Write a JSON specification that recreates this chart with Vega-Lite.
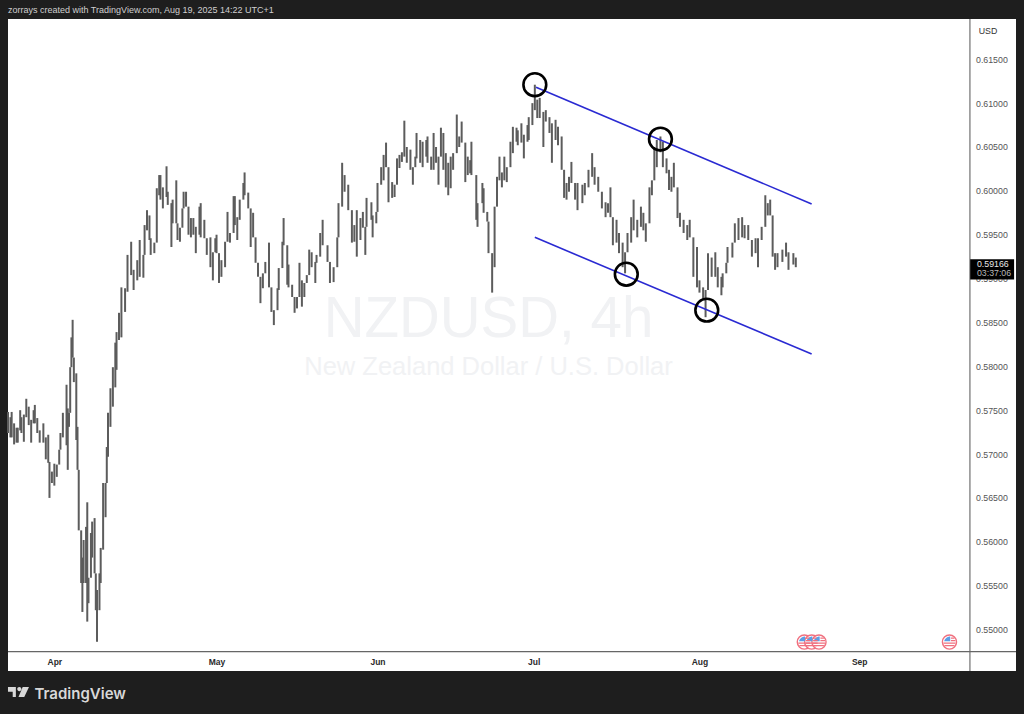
{"$schema":"https://vega.github.io/schema/vega-lite/v6.json","width":1008,"height":652,"autosize":{"type":"none"},"padding":{"left":8,"top":19,"right":8,"bottom":43},"background":"#1e1e1e","view":{"fill":"#ffffff","stroke":null},
"title":{"text":"zorrays created with TradingView.com, Aug 19, 2025 14:22 UTC+1","anchor":"start","frame":"group","orient":"top","offset":4,"fontSize":9,"fontWeight":"normal","color":"#cfcfcf","font":"Liberation Sans"},
"datasets":{
"bars":[{"bar":0,"low":0.5724,"high":0.5748},{"bar":2,"low":0.5719,"high":0.5742},{"bar":3,"low":0.5719,"high":0.5748},{"bar":5,"low":0.5711,"high":0.5735},{"bar":7,"low":0.5713,"high":0.573},{"bar":8,"low":0.5713,"high":0.573},{"bar":10,"low":0.5727,"high":0.575},{"bar":11,"low":0.5724,"high":0.5742},{"bar":13,"low":0.5714,"high":0.5745},{"bar":15,"low":0.5742,"high":0.5763},{"bar":17,"low":0.5733,"high":0.5754},{"bar":19,"low":0.5713,"high":0.5739},{"bar":21,"low":0.5735,"high":0.575},{"bar":22,"low":0.5735,"high":0.5756},{"bar":24,"low":0.5724,"high":0.5741},{"bar":26,"low":0.5713,"high":0.5727},{"bar":29,"low":0.5713,"high":0.5735},{"bar":31,"low":0.5694,"high":0.5719},{"bar":33,"low":0.569,"high":0.5722},{"bar":34,"low":0.565,"high":0.5691},{"bar":36,"low":0.5667,"high":0.568},{"bar":38,"low":0.5664,"high":0.5689},{"bar":40,"low":0.5674,"high":0.5688},{"bar":42,"low":0.5688,"high":0.5705},{"bar":43,"low":0.5705,"high":0.5724},{"bar":45,"low":0.5719,"high":0.5747},{"bar":48,"low":0.571,"high":0.5779},{"bar":49,"low":0.5682,"high":0.5752},{"bar":50,"low":0.5731,"high":0.5747},{"bar":51,"low":0.5747,"high":0.5799},{"bar":52,"low":0.5799,"high":0.5833},{"bar":53,"low":0.581,"high":0.5853},{"bar":54,"low":0.5782,"high":0.581},{"bar":56,"low":0.5716,"high":0.5792},{"bar":57,"low":0.5682,"high":0.5731},{"bar":58,"low":0.5613,"high":0.5682},{"bar":60,"low":0.5553,"high":0.5613},{"bar":61,"low":0.552,"high":0.5582},{"bar":62,"low":0.5553,"high":0.5602},{"bar":64,"low":0.5553,"high":0.5617},{"bar":65,"low":0.5509,"high":0.5645},{"bar":66,"low":0.553,"high":0.5559},{"bar":68,"low":0.5559,"high":0.561},{"bar":69,"low":0.5582,"high":0.5623},{"bar":71,"low":0.5564,"high":0.5627},{"bar":72,"low":0.5522,"high":0.5564},{"bar":73,"low":0.5486,"high":0.5545},{"bar":75,"low":0.5522,"high":0.5564},{"bar":76,"low":0.5553,"high":0.5593},{"bar":78,"low":0.5591,"high":0.5667},{"bar":80,"low":0.5628,"high":0.5667},{"bar":81,"low":0.5667,"high":0.5708},{"bar":82,"low":0.5697,"high":0.5747},{"bar":84,"low":0.5731,"high":0.5775},{"bar":86,"low":0.5754,"high":0.5799},{"bar":88,"low":0.5776,"high":0.5827},{"bar":89,"low":0.5796,"high":0.5839},{"bar":91,"low":0.583,"high":0.5861},{"bar":93,"low":0.5833,"high":0.589},{"bar":96,"low":0.5862,"high":0.5889},{"bar":98,"low":0.5885,"high":0.5927},{"bar":101,"low":0.5904,"high":0.5942},{"bar":103,"low":0.5887,"high":0.591},{"bar":106,"low":0.5898,"high":0.5921},{"bar":108,"low":0.5902,"high":0.5944},{"bar":111,"low":0.5901,"high":0.5927},{"bar":112,"low":0.5927,"high":0.5961},{"bar":114,"low":0.5955,"high":0.5978},{"bar":116,"low":0.5944,"high":0.5972},{"bar":117,"low":0.5927,"high":0.5946},{"bar":120,"low":0.5929,"high":0.5941},{"bar":122,"low":0.5941,"high":0.6003},{"bar":124,"low":0.5995,"high":0.6018},{"bar":125,"low":0.599,"high":0.6018},{"bar":127,"low":0.598,"high":0.6004},{"bar":130,"low":0.5993,"high":0.6028},{"bar":131,"low":0.5984,"high":0.5999},{"bar":134,"low":0.5936,"high":0.5986},{"bar":135,"low":0.5963,"high":0.599},{"bar":138,"low":0.5963,"high":0.6012},{"bar":139,"low":0.5944,"high":0.5963},{"bar":141,"low":0.5942,"high":0.5958},{"bar":143,"low":0.5958,"high":0.598},{"bar":144,"low":0.598,"high":0.5999},{"bar":146,"low":0.5982,"high":0.5999},{"bar":148,"low":0.595,"high":0.5982},{"bar":150,"low":0.5947,"high":0.5969},{"bar":152,"low":0.595,"high":0.5969},{"bar":154,"low":0.5929,"high":0.5959},{"bar":157,"low":0.595,"high":0.5982},{"bar":158,"low":0.5947,"high":0.5986},{"bar":161,"low":0.5946,"high":0.5967},{"bar":163,"low":0.5927,"high":0.5946},{"bar":166,"low":0.5913,"high":0.5947},{"bar":168,"low":0.5898,"high":0.593},{"bar":170,"low":0.593,"high":0.5946},{"bar":171,"low":0.5929,"high":0.595},{"bar":173,"low":0.5895,"high":0.5929},{"bar":175,"low":0.5902,"high":0.5921},{"bar":178,"low":0.5913,"high":0.5942},{"bar":180,"low":0.5942,"high":0.5976},{"bar":182,"low":0.5941,"high":0.5952},{"bar":185,"low":0.5952,"high":0.5994},{"bar":186,"low":0.5961,"high":0.5994},{"bar":188,"low":0.5944,"high":0.597},{"bar":190,"low":0.5967,"high":0.599},{"bar":193,"low":0.599,"high":0.6009},{"bar":194,"low":0.5995,"high":0.6021},{"bar":197,"low":0.598,"high":0.5998},{"bar":199,"low":0.5936,"high":0.598},{"bar":201,"low":0.5947,"high":0.5975},{"bar":203,"low":0.5918,"high":0.5947},{"bar":205,"low":0.5902,"high":0.5918},{"bar":207,"low":0.5872,"high":0.5902},{"bar":209,"low":0.5889,"high":0.5906},{"bar":211,"low":0.5906,"high":0.5919},{"bar":214,"low":0.589,"high":0.5941},{"bar":216,"low":0.5862,"high":0.589},{"bar":218,"low":0.5847,"high":0.5864},{"bar":221,"low":0.5864,"high":0.5889},{"bar":222,"low":0.5887,"high":0.5912},{"bar":225,"low":0.5912,"high":0.5942},{"bar":226,"low":0.5938,"high":0.5969},{"bar":229,"low":0.5893,"high":0.5938},{"bar":230,"low":0.589,"high":0.5916},{"bar":233,"low":0.5879,"high":0.5893},{"bar":235,"low":0.5861,"high":0.5879},{"bar":237,"low":0.5866,"high":0.5879},{"bar":239,"low":0.5879,"high":0.5918},{"bar":241,"low":0.5868,"high":0.5898},{"bar":243,"low":0.5879,"high":0.5895},{"bar":245,"low":0.5895,"high":0.5904},{"bar":247,"low":0.5904,"high":0.5933},{"bar":249,"low":0.5913,"high":0.593},{"bar":252,"low":0.5895,"high":0.5919},{"bar":253,"low":0.5918,"high":0.5927},{"bar":256,"low":0.5925,"high":0.5952},{"bar":258,"low":0.5938,"high":0.5967},{"bar":262,"low":0.5919,"high":0.5938},{"bar":264,"low":0.5895,"high":0.5919},{"bar":267,"low":0.5896,"high":0.5913},{"bar":270,"low":0.5913,"high":0.5947},{"bar":271,"low":0.5947,"high":0.5986},{"bar":274,"low":0.5982,"high":0.6032},{"bar":276,"low":0.5999,"high":0.6018},{"bar":279,"low":0.5978,"high":0.6007},{"bar":282,"low":0.5941,"high":0.5978},{"bar":284,"low":0.5942,"high":0.5961},{"bar":286,"low":0.5925,"high":0.5978},{"bar":289,"low":0.5944,"high":0.5969},{"bar":291,"low":0.5958,"high":0.5976},{"bar":293,"low":0.5927,"high":0.5959},{"bar":294,"low":0.5959,"high":0.5992},{"bar":298,"low":0.5967,"high":0.5987},{"bar":299,"low":0.5947,"high":0.5972},{"bar":302,"low":0.5963,"high":0.5976},{"bar":303,"low":0.5976,"high":0.6009},{"bar":306,"low":0.6007,"high":0.6027},{"bar":308,"low":0.6012,"high":0.6041},{"bar":310,"low":0.6027,"high":0.6055},{"bar":312,"low":0.5987,"high":0.6027},{"bar":315,"low":0.5992,"high":0.601},{"bar":317,"low":0.5993,"high":0.6007},{"bar":319,"low":0.6007,"high":0.6037},{"bar":321,"low":0.6026,"high":0.6041},{"bar":323,"low":0.6033,"high":0.6044},{"bar":325,"low":0.6039,"high":0.608},{"bar":327,"low":0.6032,"high":0.605},{"bar":330,"low":0.6024,"high":0.6047},{"bar":332,"low":0.6007,"high":0.6027},{"bar":334,"low":0.6027,"high":0.6039},{"bar":335,"low":0.6037,"high":0.6066},{"bar":338,"low":0.6032,"high":0.6058},{"bar":340,"low":0.6027,"high":0.6056},{"bar":343,"low":0.6039,"high":0.6058},{"bar":344,"low":0.6032,"high":0.6062},{"bar":347,"low":0.6024,"high":0.6039},{"bar":349,"low":0.6024,"high":0.6066},{"bar":351,"low":0.6032,"high":0.605},{"bar":353,"low":0.6007,"high":0.6039},{"bar":355,"low":0.6039,"high":0.6072},{"bar":357,"low":0.6024,"high":0.6066},{"bar":359,"low":0.6004,"high":0.6043},{"bar":361,"low":0.5995,"high":0.6032},{"bar":363,"low":0.6003,"high":0.6039},{"bar":365,"low":0.6024,"high":0.6043},{"bar":368,"low":0.6043,"high":0.6087},{"bar":370,"low":0.605,"high":0.6062},{"bar":372,"low":0.6055,"high":0.6079},{"bar":375,"low":0.601,"high":0.6055},{"bar":377,"low":0.6018,"high":0.6039},{"bar":379,"low":0.602,"high":0.6035},{"bar":380,"low":0.6018,"high":0.6056},{"bar":384,"low":0.5967,"high":0.6018},{"bar":385,"low":0.5959,"high":0.5986},{"bar":389,"low":0.5986,"high":0.6009},{"bar":390,"low":0.5975,"high":0.6003},{"bar":393,"low":0.5965,"high":0.5976},{"bar":394,"low":0.5929,"high":0.5965},{"bar":397,"low":0.5884,"high":0.5929},{"bar":399,"low":0.5913,"high":0.5982},{"bar":401,"low":0.5982,"high":0.6016},{"bar":403,"low":0.6012,"high":0.6039},{"bar":405,"low":0.6004,"high":0.6021},{"bar":407,"low":0.6012,"high":0.6039},{"bar":409,"low":0.601,"high":0.6027},{"bar":412,"low":0.6027,"high":0.6056},{"bar":414,"low":0.6043,"high":0.6073},{"bar":417,"low":0.6056,"high":0.6072},{"bar":418,"low":0.6052,"high":0.6069},{"bar":421,"low":0.6055,"high":0.6077},{"bar":423,"low":0.6037,"high":0.6064},{"bar":426,"low":0.6056,"high":0.6075},{"bar":427,"low":0.6058,"high":0.6084},{"bar":430,"low":0.6075,"high":0.61},{"bar":432,"low":0.6092,"high":0.6121},{"bar":434,"low":0.6083,"high":0.6104},{"bar":436,"low":0.6083,"high":0.6106},{"bar":439,"low":0.605,"high":0.609},{"bar":441,"low":0.6079,"high":0.6092},{"bar":444,"low":0.6066,"high":0.6084},{"bar":446,"low":0.6032,"high":0.6077},{"bar":449,"low":0.6058,"high":0.6081},{"bar":451,"low":0.6052,"high":0.6073},{"bar":454,"low":0.6024,"high":0.6062},{"bar":456,"low":0.5992,"high":0.6024},{"bar":458,"low":0.599,"high":0.6009},{"bar":460,"low":0.5999,"high":0.6016},{"bar":462,"low":0.6009,"high":0.6033},{"bar":465,"low":0.599,"high":0.6009},{"bar":467,"low":0.5978,"high":0.6009},{"bar":471,"low":0.5986,"high":0.6007},{"bar":473,"low":0.5995,"high":0.6009},{"bar":476,"low":0.6004,"high":0.6024},{"bar":479,"low":0.6016,"high":0.6043},{"bar":481,"low":0.6007,"high":0.6027},{"bar":484,"low":0.5999,"high":0.6016},{"bar":487,"low":0.598,"high":0.5999},{"bar":490,"low":0.597,"high":0.5987},{"bar":492,"low":0.5975,"high":0.5986},{"bar":494,"low":0.597,"high":0.6004},{"bar":496,"low":0.5938,"high":0.597},{"bar":499,"low":0.5941,"high":0.5967},{"bar":501,"low":0.5929,"high":0.5952},{"bar":504,"low":0.5913,"high":0.5941},{"bar":506,"low":0.5906,"high":0.593},{"bar":508,"low":0.593,"high":0.5952},{"bar":511,"low":0.5941,"high":0.597},{"bar":513,"low":0.5955,"high":0.599},{"bar":516,"low":0.5947,"high":0.5967},{"bar":519,"low":0.5959,"high":0.5982},{"bar":521,"low":0.5955,"high":0.5975},{"bar":523,"low":0.5942,"high":0.5963},{"bar":526,"low":0.5963,"high":0.6004},{"bar":528,"low":0.5995,"high":0.6012},{"bar":530,"low":0.6012,"high":0.605},{"bar":532,"low":0.6027,"high":0.6058},{"bar":535,"low":0.6044,"high":0.6062},{"bar":537,"low":0.6027,"high":0.6056},{"bar":540,"low":0.602,"high":0.6037},{"bar":542,"low":0.6001,"high":0.6024},{"bar":544,"low":0.5999,"high":0.6016},{"bar":546,"low":0.6004,"high":0.6032},{"bar":549,"low":0.5969,"high":0.6004},{"bar":551,"low":0.5959,"high":0.5975},{"bar":554,"low":0.5952,"high":0.5967},{"bar":557,"low":0.5944,"high":0.5961},{"bar":559,"low":0.5947,"high":0.5967},{"bar":562,"low":0.5902,"high":0.5947},{"bar":565,"low":0.589,"high":0.5936},{"bar":567,"low":0.5884,"high":0.5898},{"bar":570,"low":0.5876,"high":0.589},{"bar":572,"low":0.5856,"high":0.5887},{"bar":574,"low":0.5887,"high":0.5929},{"bar":577,"low":0.5902,"high":0.5924},{"bar":580,"low":0.5902,"high":0.593},{"bar":582,"low":0.589,"high":0.5913},{"bar":585,"low":0.5881,"high":0.5902},{"bar":586,"low":0.589,"high":0.5906},{"bar":589,"low":0.5906,"high":0.5918},{"bar":590,"low":0.5918,"high":0.5936},{"bar":594,"low":0.5924,"high":0.5941},{"bar":596,"low":0.5941,"high":0.5963},{"bar":599,"low":0.5944,"high":0.5969},{"bar":602,"low":0.5947,"high":0.597},{"bar":604,"low":0.5946,"high":0.5961},{"bar":607,"low":0.5944,"high":0.5961},{"bar":610,"low":0.5925,"high":0.5944},{"bar":613,"low":0.5929,"high":0.5946},{"bar":615,"low":0.5913,"high":0.5946},{"bar":618,"low":0.5944,"high":0.5959},{"bar":621,"low":0.5959,"high":0.5995},{"bar":623,"low":0.5972,"high":0.5986},{"bar":625,"low":0.5972,"high":0.599},{"bar":627,"low":0.5925,"high":0.5972},{"bar":629,"low":0.591,"high":0.5929},{"bar":631,"low":0.5913,"high":0.5929},{"bar":635,"low":0.5919,"high":0.5933},{"bar":638,"low":0.5925,"high":0.5941},{"bar":640,"low":0.591,"high":0.593},{"bar":644,"low":0.5916,"high":0.5929},{"bar":646,"low":0.5913,"high":0.5924}],
"channel":[{"line":"upper","bar":433,"price":0.6118},{"line":"upper","bar":659,"price":0.5985},{"line":"lower","bar":432,"price":0.5947},{"line":"lower","bar":659,"price":0.5814}],
"touches":[{"bar":432,"price":0.6121},{"bar":535,"price":0.6059},{"bar":507,"price":0.5905},{"bar":573,"price":0.5864}],
"events":[{"bar":653,"price":0.54857},{"bar":659,"price":0.54857},{"bar":665,"price":0.54857},{"bar":772,"price":0.54857}],
"watermark":[{"bar":394,"price":0.5853,"label":"NZDUSD, 4h","size":"big"},{"bar":394,"price":0.5799,"label":"New Zealand Dollar / U.S. Dollar","size":"small"}]
},
"layer":[
{"data":{"name":"watermark"},"transform":[{"filter":"datum.size=='big'"}],"mark":{"type":"text","fontSize":56.5,"font":"Liberation Sans","color":"#f1f2f4","align":"center","baseline":"middle"},
"encoding":{"text":{"field":"label"},
"x":{"field":"bar","type":"quantitative","scale":{"domain":[0,826.56],"nice":false,"zero":false},"axis":{"orient":"bottom","values":[38,171,303,431,567,698],"labelExpr":"['Apr','May','Jun','Jul','Aug','Sep'][indexof([38,171,303,431,567,698],datum.value)]","domain":false,"ticks":false,"grid":false,"labelPadding":-10,"labelBaseline":"middle","labelFont":"Liberation Sans","labelFontSize":8.5,"labelFontWeight":"bold","labelColor":"#2a2a2a","labelFlush":false,"title":"TradingView","titleX":26,"titleY":27,"titleAlign":"left","titleAnchor":"start","titleBaseline":"alphabetic","titleFont":"Inter","titleFontSize":15,"titleFontWeight":600,"titleColor":"#d8d8d8"}},
"y":{"field":"price","type":"quantitative","scale":{"domain":[0.54527,0.61959],"nice":false,"zero":false},"axis":{"orient":"right","values":[0.55,0.555,0.56,0.565,0.57,0.575,0.58,0.585,0.59,0.595,0.6,0.605,0.61,0.615],"format":".5f","domain":false,"ticks":false,"grid":false,"labelPadding":-40.5,"labelAlign":"left","labelFont":"Liberation Sans","labelFontSize":8.8,"labelColor":"#555555","title":null}}}},
{"data":{"name":"watermark"},"transform":[{"filter":"datum.size=='small'"}],"mark":{"type":"text","fontSize":25.5,"font":"Liberation Sans","color":"#f1f2f4","align":"center","baseline":"middle"},
"encoding":{"text":{"field":"label"},"x":{"field":"bar","type":"quantitative"},"y":{"field":"price","type":"quantitative"}}},
{"data":{"name":"bars"},"mark":{"type":"rule","color":"#5c5c5c","strokeWidth":2},
"encoding":{"x":{"field":"bar","type":"quantitative"},"y":{"field":"low","type":"quantitative"},"y2":{"field":"high"}}},
{"data":{"name":"channel"},"mark":{"type":"line","color":"#2a2ad2","strokeWidth":1.6},
"encoding":{"x":{"field":"bar","type":"quantitative"},"y":{"field":"price","type":"quantitative"},"detail":{"field":"line"}}},
{"data":{"name":"touches"},"mark":{"type":"point","shape":"circle","size":520,"filled":false,"stroke":"#000000","strokeWidth":2.6,"opacity":1},
"encoding":{"x":{"field":"bar","type":"quantitative"},"y":{"field":"price","type":"quantitative"}}},
{"data":{"name":"events"},"mark":{"type":"point","shape":"circle","size":200,"filled":true,"fill":"#ffffff","stroke":"#f0707f","strokeWidth":1.4,"opacity":1},
"encoding":{"x":{"field":"bar","type":"quantitative"},"y":{"field":"price","type":"quantitative"}}},
{"data":{"name":"events"},"mark":{"type":"point","shape":"M-0.75,-0.1C-0.7,-0.5,-0.3,-0.8,0.1,-0.8L0.1,-0.1Z","size":200,"filled":true,"color":"#5b9ee6","opacity":1},
"encoding":{"x":{"field":"bar","type":"quantitative"},"y":{"field":"price","type":"quantitative"}}},
{"data":{"name":"events"},"mark":{"type":"point","shape":"M0.2,-0.55H0.7M0.2,-0.2H0.85M-0.85,0.15H0.85M-0.7,0.5H0.7","size":200,"filled":false,"stroke":"#f0707f","strokeWidth":1.2,"opacity":1},
"encoding":{"x":{"field":"bar","type":"quantitative"},"y":{"field":"price","type":"quantitative"}}},
{"data":{"values":[{"bar":788.8,"top":0.61959,"bottom":0.54527}]},"mark":{"type":"rule","color":"#555555","strokeWidth":1},"encoding":{"x":{"field":"bar","type":"quantitative"},"y":{"field":"top","type":"quantitative"},"y2":{"field":"bottom"}}},
{"data":{"values":[{"from":0,"to":826.56,"price":0.54747}]},"mark":{"type":"rule","color":"#666666","strokeWidth":1.2},"encoding":{"x":{"field":"from","type":"quantitative"},"x2":{"field":"to"},"y":{"field":"price","type":"quantitative"}}},
{"data":{"values":[{"from":789,"to":825,"bottom":0.5899,"top":0.5922}]},"mark":{"type":"rect","color":"#000000"},
"encoding":{"x":{"field":"from","type":"quantitative"},"x2":{"field":"to"},"y":{"field":"bottom","type":"quantitative"},"y2":{"field":"top"}}},
{"data":{"values":[{"bar":794.5,"price":0.5917,"label":"0.59166","color":"#e8e8e8"},{"bar":794.5,"price":0.5906,"label":"03:37:06","color":"#b8b8b8"},{"bar":796,"price":0.6182,"label":"USD","color":"#333333"}]},"mark":{"type":"text","align":"left","baseline":"middle","fontSize":8.8,"font":"Liberation Sans"},
"encoding":{"x":{"field":"bar","type":"quantitative"},"y":{"field":"price","type":"quantitative"},"text":{"field":"label"},"color":{"field":"color","type":"nominal","scale":null}}},
{"data":{"values":[{"bar":8.6,"price":0.54287}]},"mark":{"type":"point","shape":"M-1,-0.48H-0.25V0.48H-0.55V-0.02H-1ZM-0.12,-0.28A0.2,0.2,0,1,0,0.28,-0.28A0.2,0.2,0,1,0,-0.12,-0.28ZM0.4,-0.48H1L0.55,0.48H0.0Z","size":441,"filled":true,"color":"#d8d8d8","opacity":1},
"encoding":{"x":{"field":"bar","type":"quantitative"},"y":{"field":"price","type":"quantitative"}}}
]}
